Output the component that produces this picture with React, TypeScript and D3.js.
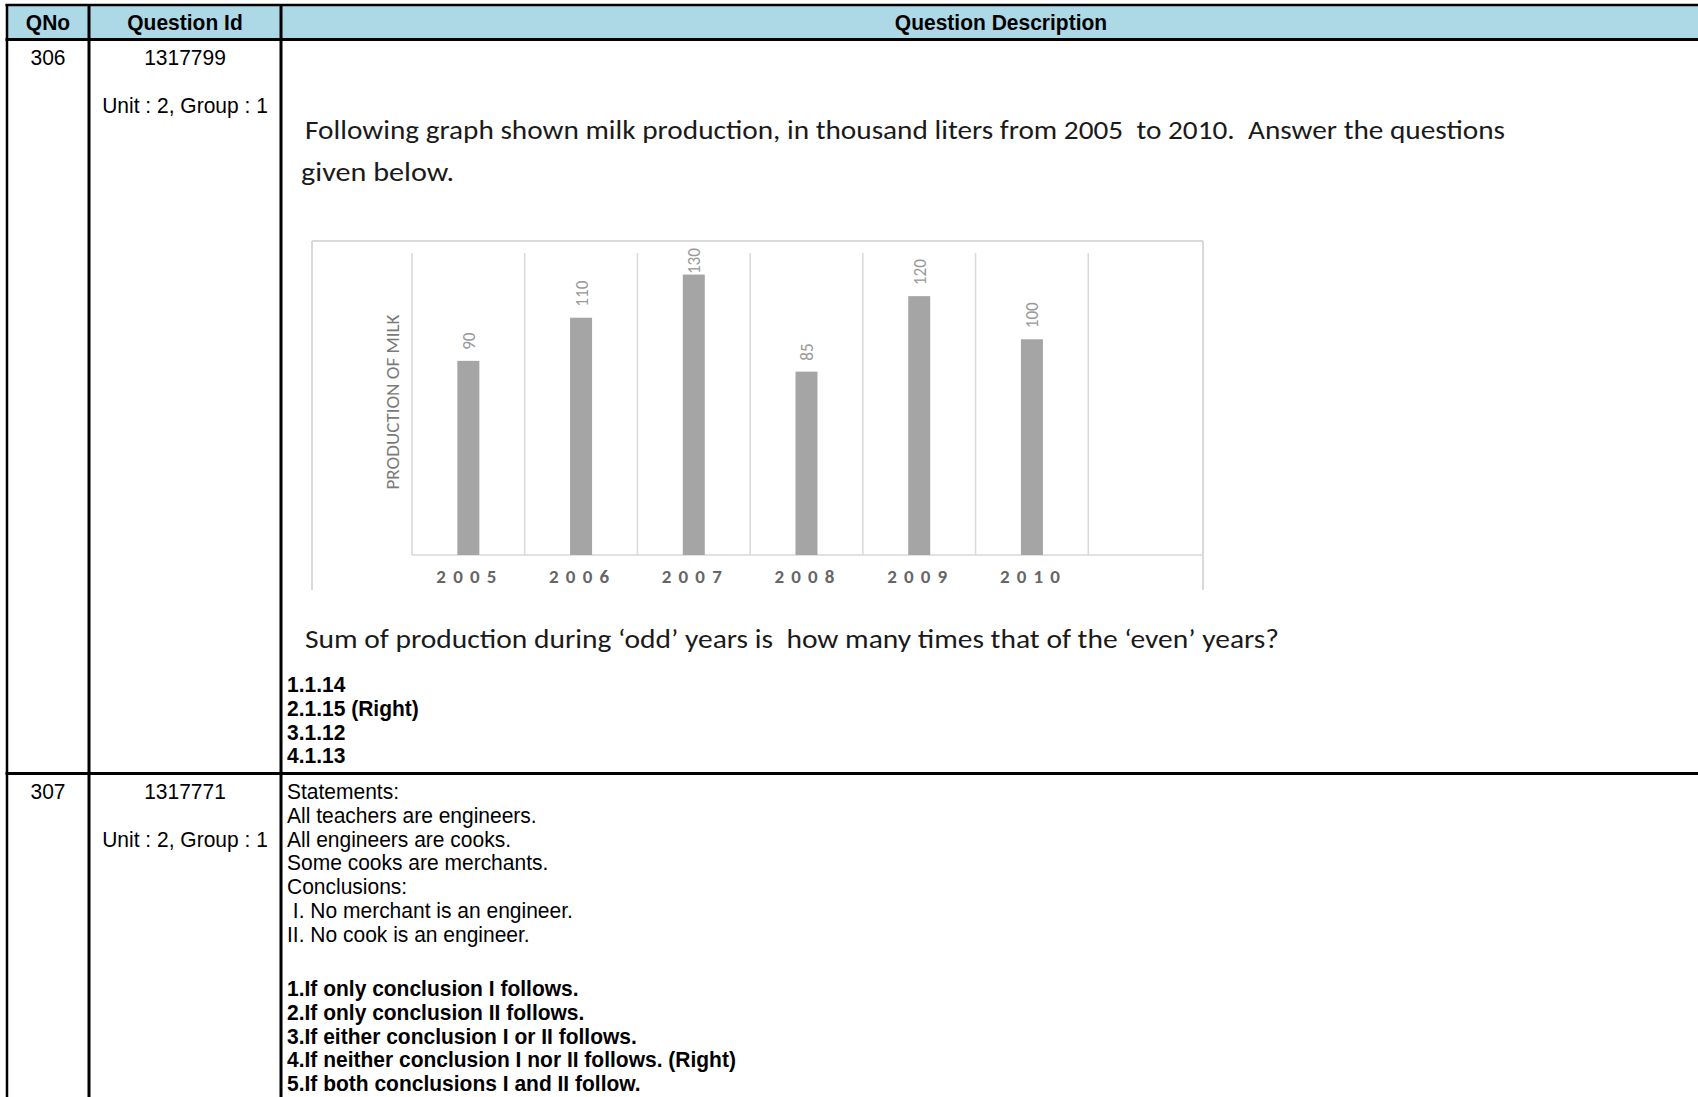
import React from 'react';
import * as d3 from 'd3';

// ---- chart data ----
const years = ['2005', '2006', '2007', '2008', '2009', '2010'];
const production = [90, 110, 130, 85, 120, 100];
const yAxisTitle = 'PRODUCTION OF MILK';

// ---- table text ----
const headers = ['QNo', 'Question Id', 'Question Description'];
const q1Meta = ['306', '1317799', 'Unit : 2, Group : 1'];
const q1Intro = [
  'Following graph shown milk production, in thousand liters from 2005  to 2010.  Answer the questions',
  'given below.',
];
const q1Question = 'Sum of production during \u2018odd\u2019 years is  how many times that of the \u2018even\u2019 years?';
const q1Options = ['1.1.14', '2.1.15 (Right)', '3.1.12', '4.1.13'];
const q2Meta = ['307', '1317771', 'Unit : 2, Group : 1'];
const q2Statements = [
  'Statements:',
  'All teachers are engineers.',
  'All engineers are cooks.',
  'Some cooks are merchants.',
  'Conclusions:',
  ' I. No merchant is an engineer.',
  'II. No cook is an engineer.',
];
const q2Options = [
  '1.If only conclusion I follows.',
  '2.If only conclusion II follows.',
  '3.If either conclusion I or II follows.',
  '4.If neither conclusion I nor II follows. (Right)',
  '5.If both conclusions I and II follow.',
];

const W = 1698;
const H = 1097;
const ARIAL = "'Liberation Sans', Arial, sans-serif";
const CAL = "Carlito, Lato, 'Open Sans', sans-serif";
const STRETCH = 1.08;

function T(props: { x: number; y: number; children: React.ReactNode; anchor?: string; bold?: boolean }) {
  return (
    <text
      transform={`translate(${props.x},${props.y}) scale(1,${STRETCH})`}
      fontFamily={ARIAL}
      fontSize={21}
      fontWeight={props.bold ? 'bold' : 'normal'}
      fill="#000"
      textAnchor={props.anchor || 'start'}
      xmlSpace="preserve"
    >
      {props.children}
    </text>
  );
}

export default function App() {
  const colX = [7, 89, 281];
  const headTop = 5;
  const headBot = 39.5;
  const rowSep = 773.5;
  const lineH = 23.8;
  const c1 = (colX[0] + colX[1]) / 2;
  const c2 = (colX[1] + colX[2]) / 2;

  // chart scales
  const x = d3.scaleBand<string>().domain([...years, '']).range([412, 1201]).paddingInner(0).paddingOuter(0);
  const y = d3.scaleLinear().domain([0, 140]).range([555, 253]);
  const bw = x.bandwidth();
  const barW = 22;
  const yTop = y(140);

  return (
    <svg width={W} height={H} style={{ position: 'absolute', left: 0, top: 0, display: 'block', background: '#fff' }}>
      {/* header */}
      <rect x={colX[0]} y={headTop} width={W - colX[0]} height={headBot - headTop} fill="#add8e6" />
      <T x={c1} y={30} anchor="middle" bold>{headers[0]}</T>
      <T x={c2} y={30} anchor="middle" bold>{headers[1]}</T>
      <T x={1001} y={30} anchor="middle" bold>{headers[2]}</T>

      {/* row meta */}
      <T x={c1} y={64.5} anchor="middle">{q1Meta[0]}</T>
      <T x={c2} y={64.5} anchor="middle">{q1Meta[1]}</T>
      <T x={c2} y={112.5} anchor="middle">{q1Meta[2]}</T>
      <T x={c1} y={799} anchor="middle">{q2Meta[0]}</T>
      <T x={c2} y={799} anchor="middle">{q2Meta[1]}</T>
      <T x={c2} y={847} anchor="middle">{q2Meta[2]}</T>

      {/* question 1 text (image-like) */}
      <g fontFamily={CAL} fontSize={26} fill="#1a1a1a">
        <text x={305} y={139} textLength={1200} lengthAdjust="spacingAndGlyphs" xmlSpace="preserve">{q1Intro[0]}</text>
        <text x={301} y={181} textLength={153} lengthAdjust="spacingAndGlyphs">{q1Intro[1]}</text>
        <text x={305} y={648} textLength={974} lengthAdjust="spacingAndGlyphs" xmlSpace="preserve">{q1Question}</text>
      </g>

      {/* chart frame */}
      <g stroke="#d9d9d9" strokeWidth={2} fill="none">
        <line x1={312} y1={241} x2={1203} y2={241} />
        <line x1={312} y1={241} x2={312} y2={590} />
        <line x1={1203} y1={241} x2={1203} y2={590} />
      </g>
      {/* gridlines */}
      <g stroke="#d9d9d9" strokeWidth={1.5}>
        {x.domain().map((d) => (
          <line key={'g' + d} x1={x(d)!} x2={x(d)!} y1={yTop} y2={y(0)} />
        ))}
        <line x1={x(years[0])!} x2={1203} y1={y(0)} y2={y(0)} />
      </g>
      {/* bars */}
      <g fill="#a5a5a5">
        {years.map((d, i) => (
          <rect key={d} x={x(d)! + (bw - barW) / 2} y={y(production[i])} width={barW} height={y(0) - y(production[i])} />
        ))}
      </g>
      {/* value labels */}
      <g fontFamily={CAL} fontSize={19} fill="#999">
        {years.map((d, i) => {
          const v = production[i];
          const len = String(v).length * 8.7;
          const ly = Math.max(y(v) - 11, yTop - 5 + len);
          const cx = x(d)! + bw / 2;
          return (
            <text key={'l' + d} transform={`translate(${cx},${ly}) rotate(-90)`} dominantBaseline="central" textLength={len} lengthAdjust="spacingAndGlyphs">
              {v}
            </text>
          );
        })}
      </g>
      {/* x tick labels */}
      <g fontFamily={CAL} fontSize={19} fontWeight="bold" fill="#666" textAnchor="middle">
        {years.map((d) => (
          <text key={'t' + d} x={x(d)! + bw / 2 - 2} y={583} textLength={60} lengthAdjust="spacing">
            {d}
          </text>
        ))}
      </g>
      {/* y title */}
      <text
        transform={`translate(392,${402}) rotate(-90)`}
        fontFamily={CAL}
        fontSize={19}
        fill="#7a7a7a"
        textAnchor="middle"
        dominantBaseline="central"
        textLength={175}
        lengthAdjust="spacingAndGlyphs"
      >
        {yAxisTitle}
      </text>

      {/* q1 options */}
      {q1Options.map((t, i) => (
        <T key={t} x={287} y={692 + i * lineH} bold>{t}</T>
      ))}

      {/* q2 statements */}
      {q2Statements.map((t, i) => (
        <T key={t} x={287} y={799 + i * lineH}>{t}</T>
      ))}
      {q2Options.map((t, i) => (
        <T key={t} x={287} y={996 + i * lineH} bold>{t}</T>
      ))}

      {/* table borders */}
      <g stroke="#000" fill="none">
        <line x1={colX[0] - 1.5} x2={W} y1={headTop} y2={headTop} strokeWidth={2.5} />
        <line x1={colX[0] - 1.5} x2={W} y1={headBot} y2={headBot} strokeWidth={3} />
        <line x1={colX[0] - 1.5} x2={W} y1={rowSep} y2={rowSep} strokeWidth={3} />
        {colX.map((cx) => (
          <line key={'c' + cx} x1={cx} x2={cx} y1={headTop - 1} y2={H} strokeWidth={cx === colX[0] ? 2.5 : 3} />
        ))}
      </g>
    </svg>
  );
}
